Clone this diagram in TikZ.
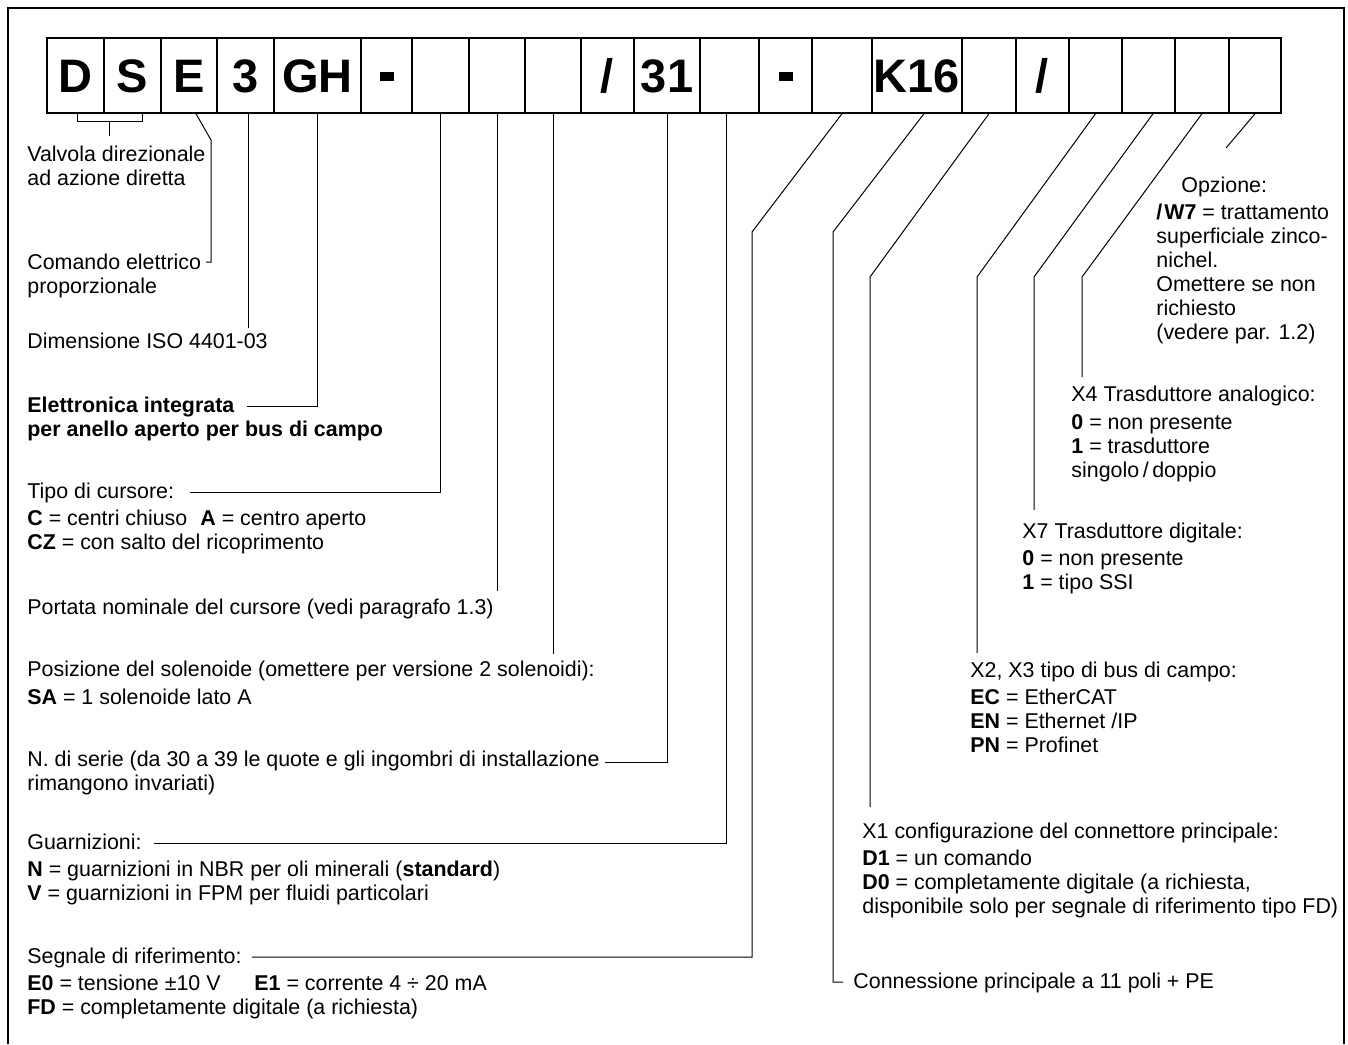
\documentclass[tikz,border=0pt]{standalone}
\usepackage{fontspec}
\setmainfont{Liberation Sans}
\usetikzlibrary{calc}
\newcommand\lblfont{\fontsize{10.7}{12}\selectfont}
\newcommand\slsym{/}
\newcommand\dashsym{\raisebox{5.5pt}{\rule{7pt}{4.5pt}}}
\begin{document}
\begin{tikzpicture}[x=0.5pt,y=-0.5pt,
  cell/.style={draw, line width=0.7pt, minimum height=37.5pt, inner sep=0pt,
    text height=16.8pt, text depth=0pt,
    font=\fontsize{23.5}{24}\selectfont\bfseries},
  lbl/.style={anchor=north west, inner sep=0pt, align=left, font=\lblfont},
  lead/.style={line width=0.5pt},
  frame/.style={line width=0.8pt}]
\useasboundingbox (0,0) rectangle (1348,1044);
\draw[frame] (8,1044) -- (8,8) -- (1344,8) -- (1344,1044);
% code boxes
\foreach \i/\l/\r/\t in {1/47/104/D, 2/104/161/S, 3/161/217/E, 4/217/274/3,
  5/274/361/GH, 6/361/412/\dashsym, 7/412/469/{}, 8/469/525/{}, 9/525/581/{},
  10/581/634/\slsym, 11/634/700/31, 12/700/759/{}, 13/759/812/\dashsym, 14/812/872/{},
  15/872/962/K16, 16/962/1016/{}, 17/1016/1069/\slsym, 18/1069/1122/{},
  19/1122/1175/{}, 20/1175/1229/{}, 21/1229/1281/{}}
  \node[cell, minimum width={(\r-\l)*0.5pt}] (b\i) at ({(\l+\r)/2},75.5) {\t};
% labels (left)
\node[lbl] (t1) at (27,144) {\strut Valvola direzionale\\ad azione diretta};
\node[lbl] (t2) at (27,252) {\strut Comando elettrico\\proporzionale};
\node[lbl] (t3) at (27,331) {\strut Dimensione ISO 4401-03};
\node[lbl, font=\lblfont\bfseries] (t4) at (27,395) {\strut Elettronica integrata\\per anello aperto per bus di campo};
\node[lbl] (t5) at (27,481) {\strut Tipo di cursore:\\[1.5pt]
  \makebox[86.5pt][l]{\textbf{C} = centri chiuso}\textbf{A} = centro aperto\\
  \textbf{CZ} = con salto del ricoprimento};
\node[lbl] (t6) at (27,597) {\strut Portata nominale del cursore (vedi paragrafo 1.3)};
\node[lbl] (t7) at (27,659) {\strut Posizione del solenoide (omettere per versione 2 solenoidi):\\[2pt]
  \textbf{SA} = 1 solenoide lato A};
\node[lbl] (t8) at (27,749) {\strut N. di serie (da 30 a 39 le quote e gli ingombri di installazione\\rimangono invariati)};
\node[lbl] (t9) at (27,832) {\strut Guarnizioni:\\[1.5pt]
  \textbf{N} = guarnizioni in NBR per oli minerali (\textbf{standard})\\
  \textbf{V} = guarnizioni in FPM per fluidi particolari};
\node[lbl] (t10) at (27,946) {\strut Segnale di riferimento:\\[1.5pt]
  \makebox[113.5pt][l]{\textbf{E0} = tensione ±10 V}\textbf{E1} = corrente 4 ÷ 20 mA\\
  \textbf{FD} = completamente digitale (a richiesta)};
% labels (right)
\node[lbl] (t11) at (1156,175) {\strut\hspace*{12.5pt}Opzione:\\[1.5pt]
  \textbf{/\hspace{1pt}W7} = trattamento\\superficiale zinco-\\nichel.\\Omettere se non\\richiesto\\(vedere par. 1.2)};
\node[lbl] (t12) at (1071,384) {\strut X4 Trasduttore analogico:\\[2pt]
  \textbf{0} = non presente\\\textbf{1} = trasduttore\\singolo\,/\,doppio};
\node[lbl] (t13) at (1022,521) {\strut X7 Trasduttore digitale:\\[1.5pt]
  \textbf{0} = non presente\\\textbf{1} = tipo SSI};
\node[lbl] (t14) at (970,660) {\strut X2, X3 tipo di bus di campo:\\[1.5pt]
  \textbf{EC} = EtherCAT\\\textbf{EN} = Ethernet /IP\\\textbf{PN} = Profinet};
\node[lbl] (t15) at (862,821) {\strut X1 configurazione del connettore principale:\\[1.5pt]
  \textbf{D1} = un comando\\\textbf{D0} = completamente digitale (a richiesta,\\
  disponibile solo per segnale di riferimento tipo FD)};
\node[lbl] (t16) at (853,971) {\strut Connessione principale a 11 poli + PE};
% leaders
\draw[lead] ($(b1.south)+(1.5,0)$) -- ++(0,8) -- ($(b2.south)+(9.5,8)$) -- ($(b2.south)+(9.5,0)$);
\draw[lead] (109,121) -- (109,136);
\draw[lead] ($(b3.south)+(7,0)$) -- (211,140) -- (211,262) -- (206,262);
\draw[lead] ($(b4.south)+(2.5,0)$) -- ++(0,214);
\draw[lead] (b5.south) |- (247,406);
\draw[lead] (b7.south) |- (190,492);
\draw[lead] (b8.south) -- ++(0,477);
\draw[lead] (b9.south) -- ++(0,540);
\draw[lead] (b11.south) |- (605,762);
\draw[lead] ($(b12.south)+(-3.5,0)$) |- (154,843);
\draw[lead] (b14.south) -- (752,232) -- (752,957) -- (252,957);
\draw[lead] ($(b15.south)+(7,0)$) -- (833,232) -- (833,982) -- (843,982);
\draw[lead] (b16.south) -- (870,277) -- (870,807);
\draw[lead] (b18.south) -- (977,277) -- (977,653);
\draw[lead] ($(b19.south)+(4.5,0)$) -- (1034,277) -- (1034,510);
\draw[lead] (b20.south) -- (1082,277) -- (1082,377);
\draw[lead] (b21.south) -- (1226,148);
\end{tikzpicture}
\end{document}
